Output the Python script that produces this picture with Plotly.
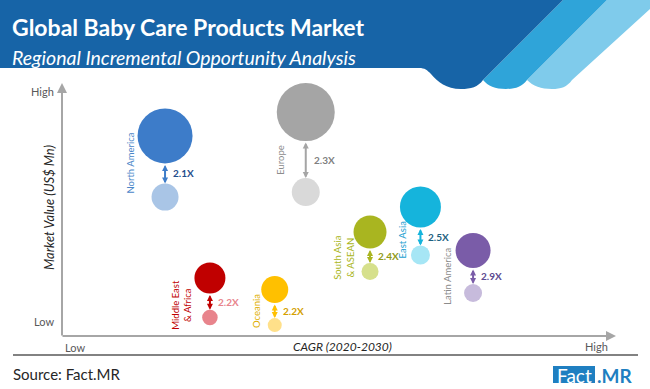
import plotly.graph_objects as go

# ---------------- data ----------------
regions = ["North America", "Europe", "Middle East<br>& Africa", "Oceania",
           "South Asia<br>& ASEAN", "East Asia", "Latin America"]
cagr_index = [18.6, 44.0, 26.7, 38.4, 55.6, 64.7, 74.2]        # position on CAGR axis (0-100, Low..High)
value_2030 = [79.1, 88.5, 22.9, 18.4, 41.1, 51.0, 33.8]        # market value position (0-100, Low..High)
value_2020 = [54.9, 56.9, 7.3, 4.3, 25.5, 32.0, 17.0]
bubble_2030 = [55, 58, 31, 27, 33, 41, 35]                     # relative bubble size
bubble_2020 = [27, 28, 15.5, 14, 17, 19, 18]
multiplier = ["2.1X", "2.3X", "2.2X", "2.2X", "2.4X", "2.5X", "2.9X"]

# ---------------- styles ----------------
big_col = ["#3d7cc9", "#a5a5a5", "#c00000", "#ffc000", "#a9b520", "#15b4dc", "#7a5ca8"]
small_col = ["#a9c5e6", "#d9d9d9", "#e8848c", "#ffe08a", "#d6e08c", "#a6e6f5", "#c7bbdc"]
mult_col = ["#1f4e8c", "#7f7f7f", "#e8848c", "#d4a000", "#8f9a18", "#1d5f80", "#5c4a90"]
label_col = ["#4a86c8", "#8c8c8c", "#c00000", "#e0b000", "#a9b520", "#1ba0d0", "#8c8c8c"]
label_shift = [(-35, 3), (-26, -8), (-28, -7), (-18, -4), (-26, -6), (-18, -8), (-25, -5)]

W, H = 650, 389
L, R, T, B = 62, 34, 83, 53
PW, PH = W - L - R, H - T - B
FONT = "Lato"


def pxx(x):
    return (x - L) / PW


def pxy(y):
    return (H - B - y) / PH


def path(points):
    out = []
    for cmd, pts in points:
        s = cmd + " ".join(f"{pxx(a):.5f},{pxy(b):.5f}" for a, b in pts)
        out.append(s)
    return " ".join(out) + " Z"


def txt(x, y, text, size, color, xanchor="center", angle=0):
    return dict(x=pxx(x), y=pxy(y), xref="paper", yref="paper", text=text, showarrow=False,
                xanchor=xanchor, yanchor="middle", textangle=angle,
                font=dict(family=FONT, size=size, color=color))


fig = go.Figure()

fig.add_trace(go.Scatter(x=cagr_index, y=value_2030, mode="markers",
                         marker=dict(size=bubble_2030, sizemode="diameter", color=big_col,
                                     opacity=1, line=dict(width=0)),
                         hoverinfo="skip", showlegend=False))
fig.add_trace(go.Scatter(x=cagr_index, y=value_2020, mode="markers",
                         marker=dict(size=bubble_2020, sizemode="diameter", color=small_col,
                                     opacity=1, line=dict(width=0)),
                         hoverinfo="skip", showlegend=False))

annotations = []
unit = 100.0 / PH
for i, reg in enumerate(regions):
    top = value_2030[i] - bubble_2030[i] / 2 * unit
    bot = value_2020[i] + bubble_2020[i] / 2 * unit
    annotations.append(dict(x=cagr_index[i], y=bot, ax=cagr_index[i], ay=top, xref="x", yref="y",
                            axref="x", ayref="y", showarrow=True, arrowhead=2, startarrowhead=2,
                            arrowside="end+start", arrowsize=0.6, startarrowsize=0.6, arrowwidth=2,
                            arrowcolor=big_col[i], text=""))
    annotations.append(dict(x=cagr_index[i], y=(top + bot) / 2, xref="x", yref="y", text=f"<b>{multiplier[i]}</b>",
                            showarrow=False, xanchor="left", yanchor="middle", xshift=6,
                            font=dict(family=FONT, size=10, color=mult_col[i])))
    annotations.append(dict(x=cagr_index[i], y=(value_2030[i] + value_2020[i]) / 2, xref="x", yref="y",
                            text=reg, showarrow=False, textangle=-90, xshift=label_shift[i][0],
                            yshift=label_shift[i][1], xanchor="center", yanchor="middle",
                            font=dict(family=FONT, size=9.5, color=label_col[i])))

# axes arrows
annotations.append(dict(x=0, y=1, xref="paper", yref="paper", ax=0, ay=254, axref="pixel", ayref="pixel",
                        showarrow=True, arrowhead=2, arrowsize=1, arrowwidth=2, arrowcolor="#a6a6a6", text=""))
annotations.append(dict(x=1, y=0, xref="paper", yref="paper", ax=-555, ay=0, axref="pixel", ayref="pixel",
                        showarrow=True, arrowhead=2, arrowsize=1, arrowwidth=2, arrowcolor="#a6a6a6", text=""))

annotations += [
    txt(56, 91, "High", 11, "#595959", "right"),
    txt(56, 321, "Low", 11, "#595959", "right"),
    txt(63, 347, "Low", 11, "#595959", "left"),
    txt(610, 346, "High", 11, "#595959", "right"),
    txt(342, 346, "<i>CAGR (2020-2030)</i>", 12, "#262626"),
    txt(49, 208, "<i>Market Value (US$ Mn)</i>", 13, "#262626", "center", -90),
    txt(10, 27, "<b>Global Baby Care Products Market</b>", 23, "white", "left"),
    txt(10, 58, "<i>Regional Incremental Opportunity Analysis</i>", 19.5, "white", "left"),
    txt(11, 374, "Source: Fact.MR", 15, "#262626", "left"),
    txt(574, 375, "Fact", 19, "white"),
    txt(595, 375, "<b>.MR</b>", 19, "#1f7fc1", "left"),
]

shapes = [
    # light stripe
    dict(type="path", xref="paper", yref="paper", line=dict(width=0), fillcolor="#7fcbeb",
         path=path([("M", [(607, 0)]), ("L", [(660, 0)]), ("L", [(572, 80)]),
                    ("C", [(567, 87), (561, 89), (552, 89)]),
                    ("C", [(541, 89), (533, 86), (527, 80)])])),
    # medium stripe
    dict(type="path", xref="paper", yref="paper", line=dict(width=0), fillcolor="#2fa4d9",
         path=path([("M", [(563, 0)]), ("L", [(607, 0)]), ("L", [(527, 80)]),
                    ("C", [(522, 87), (515, 89), (506, 89)]),
                    ("C", [(495, 89), (488, 86), (483, 80)])])),
    # dark banner
    dict(type="path", xref="paper", yref="paper", line=dict(width=0), fillcolor="#1764a7",
         path=path([("M", [(-5, -5)]), ("L", [(568, -5)]), ("L", [(483, 80)]),
                    ("C", [(478, 87), (471, 89), (461, 89)]),
                    ("C", [(446, 89), (438, 82), (431, 74)]),
                    ("C", [(427, 70), (425, 68), (419, 68)]),
                    ("L", [(-5, 68)])])),
    # separator line
    dict(type="line", xref="paper", yref="paper", x0=pxx(13), x1=pxx(638), y0=pxy(355), y1=pxy(355),
         line=dict(color="#595959", width=1.5)),
    # logo box
    dict(type="rect", xref="paper", yref="paper", x0=pxx(553), x1=pxx(595), y0=pxy(383), y1=pxy(366),
         line=dict(width=0), fillcolor="#1f7fc1"),
]

fig.update_layout(
    width=W, height=H, margin=dict(l=L, r=R, t=T, b=B),
    paper_bgcolor="white", plot_bgcolor="white",
    xaxis=dict(range=[0, 100], visible=False, fixedrange=True),
    yaxis=dict(range=[0, 100], visible=False, fixedrange=True),
    annotations=annotations, shapes=shapes, font=dict(family=FONT),
)

fig.write_html("out.html", config={"displayModeBar": False},
               post_script="document.body.style.margin='0';document.body.style.overflow='hidden';")
